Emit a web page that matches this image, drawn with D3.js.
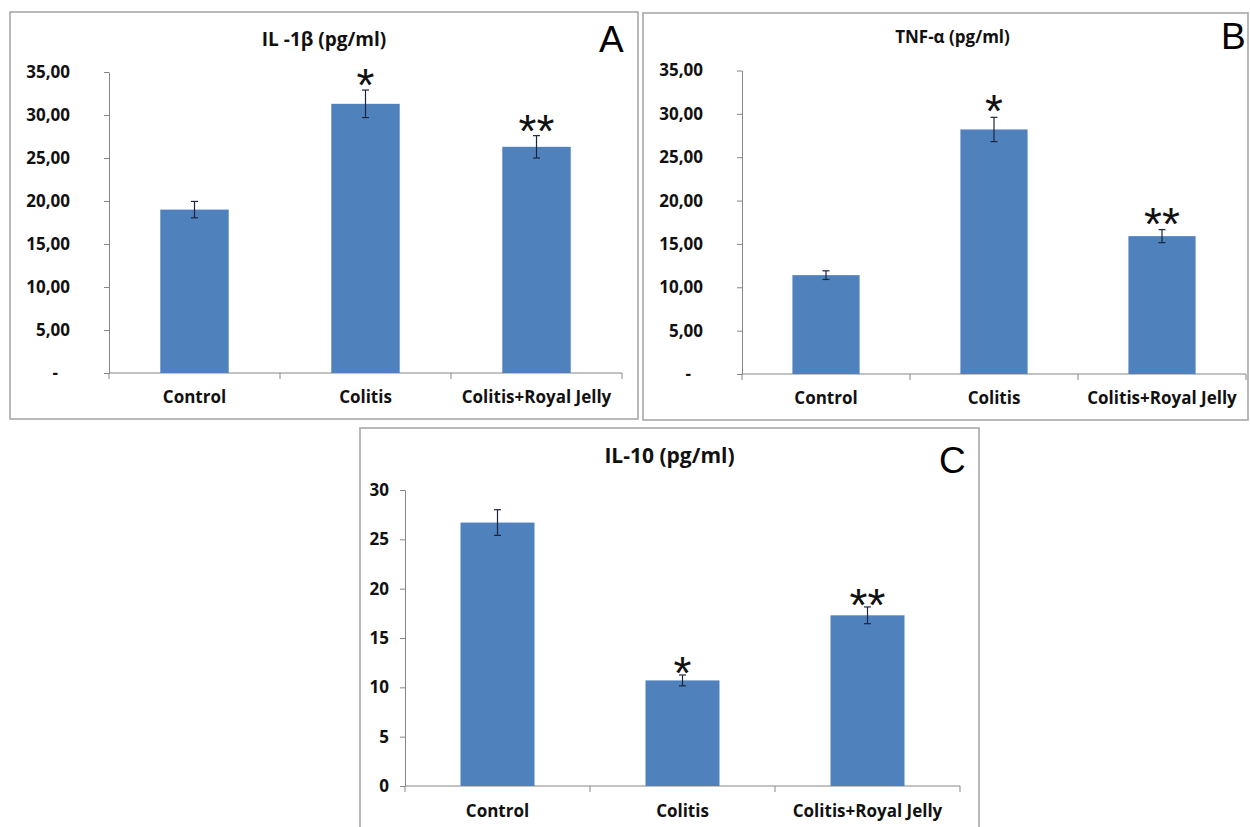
<!DOCTYPE html>
<html>
<head>
<meta charset="utf-8">
<script src="https://cdn.jsdelivr.net/npm/d3@7"></script>
<style>
  html, body { margin: 0; padding: 0; background: #ffffff; }
  svg { display: block; }
</style>
</head>
<body>
<svg id="chart" width="1250" height="827"></svg>
<script>
// ---------- data ----------
const categories = ["Control", "Colitis", "Colitis+Royal Jelly"];

const il1bValues = [19.0, 31.3, 26.3];
const il1bErrors = [0.95, 1.6, 1.3];
const il1bStars  = ["", "*", "**"];

const tnfValues = [11.4, 28.2, 15.9];
const tnfErrors = [0.5, 1.4, 0.75];
const tnfStars  = ["", "*", "**"];

const il10Values = [26.7, 10.7, 17.3];
const il10Errors = [1.3, 0.55, 0.85];
const il10Stars  = ["", "*", "**"];

const ticksAB = [0, 5, 10, 15, 20, 25, 30, 35];
const ticksC  = [0, 5, 10, 15, 20, 25, 30];

const titles = ["IL -1\u03B2 (pg/ml)", "TNF-\u03B1 (pg/ml)", "IL-10 (pg/ml)"];
const panelLetters = ["A", "B", "C"];

// ---------- drawing ----------
const svg = d3.select("#chart");
const BAR = "#4F81BD";
const AXIS = "#868686";
const FRAME = "#a8a8a8";
const FONT = "'Open Sans', 'Noto Sans', sans-serif";

const fmtComma = d => d === 0 ? "-" : d3.format(".2f")(d).replace(".", ",");
const fmtInt = d => String(d);

function drawPanel(cfg) {
  const g = svg.append("g");

  // frame
  g.append("rect")
    .attr("x", cfg.frame[0]).attr("y", cfg.frame[1])
    .attr("width", cfg.frame[2] - cfg.frame[0])
    .attr("height", cfg.frame[3] - cfg.frame[1])
    .attr("fill", "#fff").attr("stroke", FRAME).attr("stroke-width", 1.6);

  const x = d3.scaleBand().domain(categories)
    .range([cfg.x0, cfg.x1]).paddingInner(0.6).paddingOuter(0.3);
  const y = d3.scaleLinear().domain([0, cfg.yMax]).range([cfg.y0, cfg.y1]);

  // y axis
  const ya = g.append("g").attr("transform", `translate(${cfg.x0},0)`)
    .call(d3.axisLeft(y).tickValues(cfg.ticks).tickFormat(cfg.fmt)
      .tickSize(5).tickSizeOuter(0).tickPadding(cfg.tickPad));
  ya.select(".domain").attr("stroke", AXIS);
  ya.selectAll(".tick line").attr("stroke", AXIS);
  ya.selectAll(".tick text")
    .attr("font-family", FONT).attr("font-weight", 700)
    .attr("font-size", cfg.tickFont).attr("fill", "#111");
  if (cfg.zeroShift) {
    ya.selectAll(".tick").filter(d => d === 0).select("text")
      .attr("dx", -cfg.zeroShift);
  }

  // x axis (labels only) + boundary ticks
  const xa = g.append("g").attr("transform", `translate(0,${cfg.y0})`)
    .call(d3.axisBottom(x).tickSize(0).tickPadding(cfg.xLabelPad));
  xa.select(".domain").attr("stroke", AXIS).attr("d", `M${cfg.x0},0H${cfg.x1}`);
  xa.selectAll(".tick text")
    .attr("font-family", FONT).attr("font-weight", 700)
    .attr("font-size", cfg.xFont).attr("fill", "#111");
  const bounds = d3.range(categories.length + 1).map(i => cfg.x0 + i * x.step());
  xa.selectAll("line.bnd").data(bounds).join("line").attr("class", "bnd")
    .attr("x1", d => d).attr("x2", d => d).attr("y1", 0).attr("y2", 6)
    .attr("stroke", AXIS);

  // bars
  g.selectAll("rect.bar").data(cfg.values).join("rect").attr("class", "bar")
    .attr("x", (d, i) => x(categories[i]))
    .attr("width", x.bandwidth())
    .attr("y", d => y(d))
    .attr("height", d => y(0) - y(d))
    .attr("fill", BAR);

  // error bars
  const eb = g.selectAll("g.err").data(cfg.values).join("g").attr("class", "err")
    .attr("stroke", "#1c2540").attr("stroke-width", 1.2);
  const cx = i => x(categories[i]) + x.bandwidth() / 2;
  eb.append("line")
    .attr("x1", (d, i) => cx(i)).attr("x2", (d, i) => cx(i))
    .attr("y1", (d, i) => y(d + cfg.errors[i])).attr("y2", (d, i) => y(d - cfg.errors[i]));
  eb.append("line")
    .attr("x1", (d, i) => cx(i) - 3.5).attr("x2", (d, i) => cx(i) + 3.5)
    .attr("y1", (d, i) => y(d + cfg.errors[i])).attr("y2", (d, i) => y(d + cfg.errors[i]));
  eb.append("line")
    .attr("x1", (d, i) => cx(i) - 3.5).attr("x2", (d, i) => cx(i) + 3.5)
    .attr("y1", (d, i) => y(d - cfg.errors[i])).attr("y2", (d, i) => y(d - cfg.errors[i]));

  // significance stars
  g.selectAll("text.star").data(cfg.values).join("text").attr("class", "star")
    .attr("x", (d, i) => cx(i))
    .attr("y", (d, i) => y(d + cfg.errors[i]) - cfg.starGap + 26)
    .attr("text-anchor", "middle")
    .attr("font-family", "'Liberation Sans', Arial, sans-serif")
    .attr("font-size", 46).attr("fill", "#111")
    .text((d, i) => cfg.stars[i]);

  // title
  g.append("text")
    .attr("x", (cfg.frame[0] + cfg.frame[2]) / 2 + (cfg.titleDx || 0))
    .attr("y", cfg.titleY)
    .attr("text-anchor", "middle")
    .attr("font-family", FONT).attr("font-weight", 700)
    .attr("font-size", cfg.titleFont).attr("fill", "#111")
    .text(cfg.title);

  // panel letter
  g.append("text")
    .attr("x", cfg.letterX).attr("y", cfg.letterY)
    .attr("font-family", "'Liberation Sans', Arial, sans-serif")
    .attr("font-size", 37).attr("fill", "#000")
    .text(cfg.letter);
}

drawPanel({
  frame: [10, 12, 638, 419],
  x0: 109, x1: 622, y0: 373, y1: 72, yMax: 35,
  ticks: ticksAB, fmt: fmtComma, tickPad: 34, tickFont: 17, zeroShift: 12,
  xFont: 17, xLabelPad: 18,
  values: il1bValues, errors: il1bErrors, stars: il1bStars, starGap: 15,
  title: titles[0], titleY: 46, titleFont: 19,
  letter: panelLetters[0], letterX: 599, letterY: 52
});

drawPanel({
  frame: [643, 13, 1248, 420],
  x0: 742, x1: 1246, y0: 374, y1: 70.5, yMax: 35,
  ticks: ticksAB, fmt: fmtComma, tickPad: 34, tickFont: 17, zeroShift: 12,
  xFont: 17, xLabelPad: 18,
  values: tnfValues, errors: tnfErrors, stars: tnfStars, starGap: 16,
  title: titles[1], titleY: 43, titleFont: 17, titleDx: 7,
  letter: panelLetters[1], letterX: 1221, letterY: 49
});

drawPanel({
  frame: [360, 428, 979, 840],
  x0: 405, x1: 960, y0: 786, y1: 490, yMax: 30,
  ticks: ticksC, fmt: fmtInt, tickPad: 11, tickFont: 17, zeroShift: 0,
  xFont: 17, xLabelPad: 19,
  values: il10Values, errors: il10Errors, stars: il10Stars, starGap: 12,
  title: titles[2], titleY: 463, titleFont: 21,
  letter: panelLetters[2], letterX: 939, letterY: 473
});
</script>
</body>
</html>
